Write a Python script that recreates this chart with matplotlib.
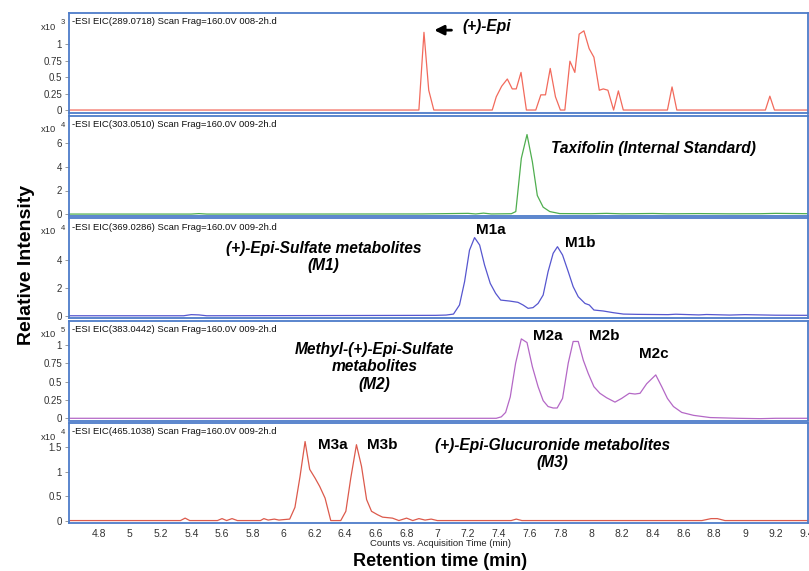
import numpy as np
import matplotlib
matplotlib.use("Agg")
import matplotlib.pyplot as plt

plt.rcParams['font.family'] = ['Liberation Sans', 'DejaVu Sans']

# ---- data (time in min, intensity in panel units) ----
t_epi = [4.6, 6.88, 6.913, 6.944, 6.977, 7.357, 7.383, 7.418, 7.455, 7.487, 7.513, 7.544, 7.579,
         7.640, 7.673, 7.703, 7.734, 7.768, 7.800, 7.829, 7.862, 7.894, 7.922, 7.953, 7.987,
         8.018, 8.053, 8.079, 8.109, 8.146, 8.177, 8.209, 8.496, 8.526, 8.557, 9.133, 9.162,
         9.192, 9.42]
i_epi = [0, 0, 1.177, 0.30, 0, 0, 0.20, 0.36, 0.47, 0.32, 0.32, 0.57, 0,
         0, 0.23, 0.23, 0.63, 0.20, 0, 0, 0.74, 0.57, 1.15, 1.20, 0.93,
         0.80, 0.30, 0.32, 0.30, 0, 0.29, 0, 0, 0.35, 0, 0, 0.21,
         0, 0]

t_taxi = [4.6, 5.4, 5.45, 5.5, 6.0, 6.9, 7.2, 7.25, 7.3, 7.35, 7.481, 7.51, 7.546, 7.583, 7.618,
          7.650, 7.688, 7.731, 7.796, 8.0, 8.1, 8.2, 8.4, 8.5, 8.7, 8.9, 9.1, 9.2, 9.42]
i_taxi = [0.02, 0.02, 0.06, 0.02, 0.02, 0.03, 0.08, 0.03, 0.10, 0.03, 0.05, 0.23, 4.7, 6.7, 4.4,
          1.58, 0.6, 0.23, 0.06, 0.05, 0.08, 0.04, 0.07, 0.04, 0.06, 0.04, 0.05, 0.08, 0.05]

t_m1 = [4.6, 5.35, 5.40, 5.45, 5.5, 6.99, 7.057, 7.105, 7.144, 7.177, 7.209, 7.242, 7.275, 7.307,
        7.344, 7.379, 7.412, 7.47, 7.524, 7.557, 7.590, 7.622, 7.655, 7.688, 7.720, 7.753,
        7.781, 7.814, 7.851, 7.883, 7.916, 7.960, 7.988, 8.018, 8.079, 8.144, 8.21, 8.3,
        8.5, 8.55, 8.7, 8.75, 8.9, 9.0, 9.2, 9.42]
i_m1 = [0.02, 0.02, 0.10, 0.08, 0.02, 0.05, 0.07, 0.14, 0.79, 2.45, 4.7, 5.6, 5.07, 3.64,
        2.33, 1.62, 1.14, 1.07, 0.98, 0.79, 0.55, 0.6, 0.9, 1.5, 3.17, 4.48,
        4.95, 4.36, 3.17, 2.1, 1.38, 0.9, 0.79, 0.43, 0.36, 0.24, 0.14, 0.12,
        0.10, 0.13, 0.08, 0.11, 0.07, 0.10, 0.06, 0.05]

t_m2 = [4.6, 7.383, 7.416, 7.444, 7.474, 7.509, 7.546, 7.583, 7.618, 7.655, 7.688, 7.720,
        7.753, 7.779, 7.814, 7.851, 7.883, 7.916, 7.949, 7.981, 8.018, 8.057, 8.10, 8.155,
        8.198, 8.248, 8.285, 8.318, 8.361, 8.420, 8.459, 8.496, 8.535, 8.589, 8.666, 8.774,
        8.95, 9.1, 9.2, 9.42]
i_m2 = [0, 0, 0.02, 0.08, 0.29, 0.75, 1.08, 1.03, 0.70, 0.43, 0.24, 0.16,
        0.14, 0.14, 0.27, 0.75, 1.045, 1.045, 0.79, 0.61, 0.43, 0.34, 0.28, 0.22,
        0.27, 0.34, 0.33, 0.34, 0.47, 0.59, 0.43, 0.27, 0.16, 0.08, 0.04, 0.01,
        0, -0.005, 0, 0]

t_m3 = [4.6, 5.33, 5.36, 5.39, 5.57, 5.60, 5.63, 5.665, 5.70, 5.85, 5.872, 5.90, 5.94, 5.97,
        6.003, 6.04, 6.074, 6.107, 6.14, 6.17, 6.205, 6.235, 6.27, 6.307, 6.372, 6.405,
        6.437, 6.474, 6.507, 6.540, 6.572, 6.611, 6.644, 6.708, 6.75, 6.80, 6.84, 6.88,
        6.92, 6.96, 7.0, 7.48, 7.513, 7.55, 8.72, 8.78, 8.82, 8.87, 9.42]
i_m3 = [0, 0, 0.05, 0, 0, 0.04, 0, 0.04, 0, 0, 0.04, 0.01, 0.03, 0.01,
        0.02, 0.03, 0.27, 0.9, 1.62, 1.05, 0.87, 0.70, 0.46, 0, 0, 0.19,
        0.87, 1.555, 1.11, 0.43, 0.19, 0.12, 0.07, 0.05, 0, 0.05, 0, 0.04,
        0.01, 0.03, 0, 0, 0.03, 0, 0, 0.04, 0.04, 0, 0]

headers = ["-ESI EIC(289.0718) Scan Frag=160.0V 008-2h.d",
           "-ESI EIC(303.0510) Scan Frag=160.0V 009-2h.d",
           "-ESI EIC(369.0286) Scan Frag=160.0V 009-2h.d",
           "-ESI EIC(383.0442) Scan Frag=160.0V 009-2h.d",
           "-ESI EIC(465.1038) Scan Frag=160.0V 009-2h.d"]
exponents = [3, 4, 4, 5, 4]
yticks = [[0, 0.25, 0.5, 0.75, 1], [0, 2, 4, 6], [0, 2, 4], [0, 0.25, 0.5, 0.75, 1], [0, 0.5, 1, 1.5]]
ytick_labels = [["0", "0.25", "0.5", "0.75", "1"], ["0", "2", "4", "6"], ["0", "2", "4"],
                ["0", "0.25", "0.5", "0.75", "1"], ["0", "0.5", "1", "1.5"]]
ylims = [(-0.045, 1.47), (-0.1, 8.3), (-0.14, 7.0), (-0.03, 1.33), (-0.05, 2.0)]
xticks = [4.8, 5, 5.2, 5.4, 5.6, 5.8, 6, 6.2, 6.4, 6.6, 6.8, 7, 7.2, 7.4, 7.6, 7.8,
          8, 8.2, 8.4, 8.6, 8.8, 9, 9.2, 9.4]
xtick_labels = ["4.8", "5", "5.2", "5.4", "5.6", "5.8", "6", "6.2", "6.4", "6.6", "6.8", "7",
                "7.2", "7.4", "7.6", "7.8", "8", "8.2", "8.4", "8.6", "8.8", "9", "9.2", "9.4"]

traces = [(t_epi, i_epi), (t_taxi, i_taxi), (t_m1, i_m1), (t_m2, i_m2), (t_m3, i_m3)]
colors = ['#f26a5c', '#4fae4f', '#5656cf', '#b468c6', '#dc5a4c']
spine_col = '#4d7cc9'

W, H = 809, 571
fig = plt.figure(figsize=(W / 100, H / 100), dpi=100)

left = 69 / W
width = (808 - 69) / W
tops = [13, 115.5, 218, 320.5, 423]
axes = []
for k in range(5):
    ax = fig.add_axes([left, 1 - (tops[k] + 100) / H, width, 100 / H])
    t, v = traces[k]
    ax.plot(t, v, color=colors[k], lw=0.9)
    ax.set_xlim(4.605, 9.41)
    ax.set_ylim(*ylims[k])
    ax.set_yticks(yticks[k])
    ax.set_yticklabels(ytick_labels[k])
    ax.tick_params(axis='y', length=3, width=0.6, color='#888888', labelsize=7,
                   labelcolor='#333333', pad=2)
    for s in ax.spines.values():
        s.set_color(spine_col)
        s.set_linewidth(1.3)
    ax.text(0.004, 0.955, headers[k], transform=ax.transAxes, fontsize=6.8,
            va='top', ha='left', color='#111111')
    ax.text(-0.038, 0.86, 'x10', transform=ax.transAxes, fontsize=6.8,
            va='center', ha='left', color='#333333')
    ax.text(-0.0115, 0.90, str(exponents[k]), transform=ax.transAxes, fontsize=5.5,
            va='center', ha='left', color='#333333')
    if k < 4:
        ax.set_xticks([])
    else:
        ax.set_xticks(xticks)
        ax.set_xticklabels(xtick_labels)
        ax.tick_params(axis='x', length=0, labelsize=7.5, labelcolor='#333333', pad=4)
    axes.append(ax)

lab = dict(fontsize=11.2, fontweight='bold', fontstyle='italic', color='black')
pk = dict(fontsize=11, fontweight='bold', color='black', ha='center', va='center')

axes[0].annotate('', xy=(6.962, 1.21), xytext=(7.11, 1.21),
                 arrowprops=dict(arrowstyle='-|>', color='black', lw=2.0, mutation_scale=14))
axes[0].text(7.165, 1.26, '(+)-Epi', ha='left', va='center', **lab)

axes[1].text(8.405, 5.54, 'Taxifolin (Internal Standard)', ha='center', va='center', **lab)

axes[2].text(6.26, 4.2, '(+)-Epi-Sulfate metabolites\n(M1)', ha='center', va='center',
             linespacing=1.2, **lab)
axes[2].text(7.348, 6.14, 'M1a', **pk)
axes[2].text(7.929, 5.24, 'M1b', **pk)

axes[3].text(6.59, 0.70, 'Methyl-(+)-Epi-Sulfate\nmetabolites\n(M2)', ha='center', va='center',
             linespacing=1.2, **lab)
axes[3].text(7.72, 1.124, 'M2a', **pk)
axes[3].text(8.085, 1.124, 'M2b', **pk)
axes[3].text(8.405, 0.872, 'M2c', **pk)

axes[4].text(6.318, 1.554, 'M3a', **pk)
axes[4].text(6.644, 1.554, 'M3b', **pk)
axes[4].text(7.75, 1.37, '(+)-Epi-Glucuronide metabolites\n(M3)', ha='center', va='center',
             linespacing=1.2, **lab)

fig.text(441 / W, 1 - 543 / H, 'Counts vs. Acquisition Time (min)', fontsize=6.8,
         ha='center', va='center', color='#222222')
fig.text(440 / W, 1 - 561 / H, 'Retention time (min)', fontsize=13, fontweight='bold',
         ha='center', va='center')
fig.text(27 / W, 1 - 265 / H, 'Relative Intensity', fontsize=14, fontweight='bold',
         rotation=90, ha='center', va='center')

fig.savefig('out.png', dpi=100)
